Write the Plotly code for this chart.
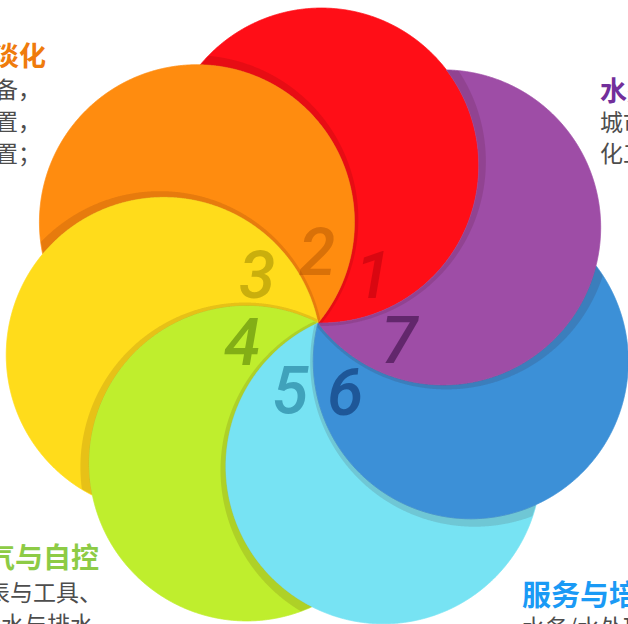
import numpy as np
import plotly.graph_objects as go

# ---------------- data ----------------
petal_numbers = ["1", "2", "3", "4", "5", "6", "7"]
petal_colors = ["#FF0E17", "#FF8C0F", "#FFDC1B", "#BFEE2D", "#77E3F3", "#3C90D7", "#9E4DA6"]
digit_colors = ["rgba(170,0,10,0.45)", "rgba(170,80,0,0.45)", "rgba(150,130,0,0.5)",
                "rgba(70,110,0,0.5)", "rgba(20,110,140,0.55)", "rgba(10,50,110,0.6)",
                "rgba(50,10,60,0.55)"]

tl_title = "海水淡化"
tl_lines = ["海水淡化设备，", "海水淡化装置，", "苦咸水淡化装置；"]
tr_title = "水处理"
tr_lines = ["城市污水处理，", "化工废水处理；"]
bl_title = "电气与自控"
bl_lines = ["仪器仪表与工具、", "给水与排水"]
br_title = "服务与培训"
br_lines = ["水务/水处理运营"]

# ---------------- layout constants ----------------
W, H = 628, 624
CX, CY = 318.0, 323.0
R = 157.5
start_angle = 88.8          # direction of first petal centre (deg, math orientation)
step = 360.0 / 7
SH_W, SH_S = 7.0, 4.0       # shadow width / outward offset

angles = np.radians(start_angle + step * np.arange(7))
centers = [np.array([CX + R * np.cos(a), CY - R * np.sin(a)]) for a in angles]
units = [np.array([np.cos(a), -np.sin(a)]) for a in angles]


def circle_pts(c, r, n=1440):
    t = np.linspace(0, 2 * np.pi, n, endpoint=False)
    return np.column_stack([c[0] + r * np.cos(t), c[1] + r * np.sin(t)])


def run(points, mask):
    idx = np.where(mask & ~np.roll(mask, 1))[0][0]
    points = np.roll(points, -idx, axis=0)
    mask = np.roll(mask, -idx)
    return points[mask]


def dist(p, c):
    return np.hypot(p[:, 0] - c[0], p[:, 1] - c[1])


def crescent(ck, cn):
    """disk ck minus disk cn"""
    P = circle_pts(ck, R)
    arc1 = run(P, dist(P, cn) > R)
    Q = circle_pts(cn, R)
    arc2 = run(Q, dist(Q, ck) < R)
    end = arc1[-1]
    if np.hypot(*(arc2[0] - end)) > np.hypot(*(arc2[-1] - end)):
        arc2 = arc2[::-1]
    return np.vstack([arc1, arc2])


def shadow(ck, uk, cp):
    """band just outside disk ck, lying on disk cp"""
    bc = ck + SH_S * uk
    inner = circle_pts(ck, R)
    inner = inner[dist(inner, cp) < R]
    outer = circle_pts(bc, R + SH_W)
    outer = outer[dist(outer, cp) < R]
    ref = np.arctan2(cp[1] - ck[1], cp[0] - ck[0])

    def ang(p):
        a = np.arctan2(p[:, 1] - ck[1], p[:, 0] - ck[0]) - ref
        return (a + np.pi) % (2 * np.pi) - np.pi

    inner = inner[np.argsort(ang(inner))]
    outer = outer[np.argsort(-ang(outer))]
    return np.vstack([inner, outer])


def to_path(poly):
    return "M " + " L ".join(f"{x:.2f},{y:.2f}" for x, y in poly) + " Z"


shapes = []
for k in range(7):
    nxt = (k + 1) % 7
    shapes.append(dict(type="path", xref="x", yref="y", path=to_path(crescent(centers[k], centers[nxt])),
                       fillcolor=petal_colors[k], line=dict(color=petal_colors[k], width=0.8), layer="above"))
for k in range(7):
    prv = (k - 1) % 7
    shapes.append(dict(type="path", xref="x", yref="y", path=to_path(shadow(centers[k], units[k], centers[prv])),
                       fillcolor="rgba(60,0,0,0.12)", line=dict(width=0), layer="above"))

fig = go.Figure()
fig.add_trace(go.Scatter(x=[0, W], y=[0, H], mode="markers", marker=dict(opacity=0), hoverinfo="skip",
                         showlegend=False))

annotations = []
digit_xy = [(373, 275), (317, 252), (257, 275), (242, 342), (290, 390), (345, 392), (400, 340)]
for k, lab in enumerate(petal_numbers):
    x, y = digit_xy[k]
    annotations.append(dict(x=x, y=y, xref="x", yref="y", text=lab, showarrow=False,
                            font=dict(family="Roboto", size=66, color=digit_colors[k], style="italic",
                                      weight=500),
                            xanchor="center", yanchor="middle"))

CJK = "Noto Sans CJK SC"
BODY = "#4D4D4D"


def add_text(x, y, text, size, color, anchor, bold=False, yshift=0):
    annotations.append(dict(x=x, y=y, xref="x", yref="y", text=f"<b>{text}</b>" if bold else text,
                            showarrow=False, xanchor=anchor, yanchor="middle", yshift=yshift,
                            font=dict(family=CJK, size=size, color=color)))


# top-left block
add_text(48, 54, tl_title, 27, "#EF7B0C", "right", bold=True)
for i, t in enumerate(tl_lines):
    add_text(43, 88 + 32 * i, t, 23, BODY, "right")
# top-right block
add_text(598, 89, tr_title, 27, "#722F9B", "left", bold=True)
for i, t in enumerate(tr_lines):
    add_text(598, 121 + 31 * i, t, 23, BODY, "left")
# bottom-left block
add_text(101, 556, bl_title, 28, "#8DCB45", "right", bold=True)
add_text(104, 591, bl_lines[0], 23, BODY, "right")
add_text(95, 620, bl_lines[1], 23, BODY, "right", yshift=-3)
# bottom-right block
add_text(520, 593, br_title, 29, "#1A9AF5", "left", bold=True)
add_text(520, 620, br_lines[0], 23, BODY, "left", yshift=-6)

fig.update_layout(
    width=W, height=H, margin=dict(l=0, r=0, t=0, b=0),
    paper_bgcolor="white", plot_bgcolor="white",
    xaxis=dict(range=[0, W], visible=False, fixedrange=True),
    yaxis=dict(range=[H, 0], visible=False, fixedrange=True),
    shapes=shapes, annotations=annotations, showlegend=False,
)
fig.write_html("out.html", config={"displayModeBar": False},
               post_script="document.body.style.margin='0';document.body.style.overflow='hidden';")
